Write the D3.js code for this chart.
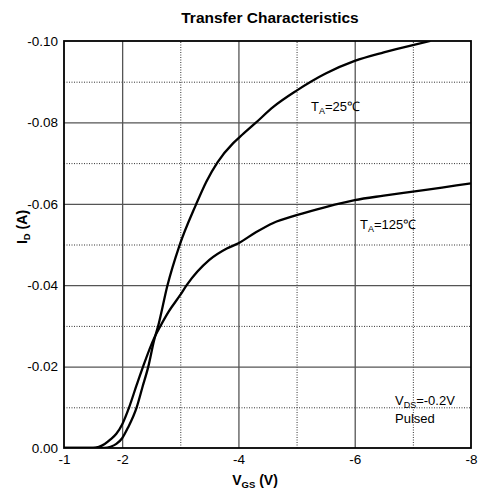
<!DOCTYPE html>
<html lang="en">
<head>
    <meta charset="utf-8">
    <script src="https://cdn.jsdelivr.net/npm/d3@7"></script>
    <style>
        body { margin: 0; background: #fff; }
        text { font-family: Arial, "Liberation Sans", sans-serif; fill: #000; }
        .grid line { stroke: #555; }
        .grid path { display: none; }
        .minor line { stroke: #333; stroke-dasharray: 1,1.5; }
        .curve { fill: none; stroke: #000; stroke-width: 2.3; }
    </style>
</head>
<body>
<script>
    // V_GS (V) and I_D (A)
    let vgs25 = [-1.0, -1.7, -1.8, -1.9, -2.0, -2.1, -2.25, -2.35, -2.45, -2.55, -2.62, -2.78, -2.98,
        -3.27, -3.45, -3.64, -3.91, -4.03, -4.29, -4.6, -5.0, -5.5, -6.0, -6.5, -7.0, -7.3];
    let id25 = [0, 0, -0.0003, -0.0010, -0.0024, -0.0050, -0.0100, -0.0150, -0.0200, -0.0265, -0.0300, -0.0400, -0.0495,
        -0.0598, -0.0655, -0.0702, -0.0749, -0.0765, -0.0798, -0.0838, -0.0878, -0.0920, -0.0951, -0.0972, -0.0990, -0.1000];

    let vgs125 = [-1.0, -1.5, -1.6, -1.7, -1.8, -1.9, -2.0, -2.12, -2.25, -2.36, -2.55, -2.66, -2.8, -3.0,
        -3.11, -3.5, -3.8, -4.0, -4.3, -4.6, -5.0, -5.5, -6.0, -6.5, -7.0, -7.5, -8.0];
    let id125 = [0, 0, -0.0003, -0.0010, -0.0021, -0.0035, -0.0058, -0.0100, -0.0155, -0.0200, -0.0270, -0.0300, -0.0335, -0.0376,
        -0.0400, -0.0462, -0.0490, -0.0503, -0.0530, -0.0553, -0.0572, -0.0592, -0.0609, -0.0620, -0.0630, -0.0640, -0.0650];

    let xLabelTicks = [-1, -2, -4, -6, -8];
    let xMajor = [-2, -4, -6];
    let xMinor = [-3, -5, -7];
    let yLabelTicks = [0, -0.02, -0.04, -0.06, -0.08, -0.10];
    let yMajor = [-0.02, -0.04, -0.06, -0.08];
    let yMinor = [-0.01, -0.03, -0.05, -0.07, -0.09];

    let W = 478, H = 494;
    let m = {top: 41, right: 7, bottom: 46, left: 64};
    let w = W - m.left - m.right, h = H - m.top - m.bottom;

    let svg = d3.select("body").append("svg")
        .attr("width", W).attr("height", H);
    let g = svg.append("g").attr("transform", "translate(" + m.left + "," + m.top + ")");

    let x = d3.scaleLinear().domain([-1, -8]).range([0, w]);
    let y = d3.scaleLinear().domain([0, -0.10]).range([h, 0]);

    let loc = d3.formatLocale({decimal: ".", thousands: ",", grouping: [3], currency: ["", ""], minus: "-"});
    let fy = loc.format(".2f");
    let fx = loc.format("d");

    // grid
    g.append("g").attr("class", "grid minor").attr("transform", "translate(0," + h + ")")
        .call(d3.axisBottom(x).tickValues(xMinor).tickSize(-h).tickFormat(""));
    g.append("g").attr("class", "grid minor")
        .call(d3.axisLeft(y).tickValues(yMinor).tickSize(-w).tickFormat(""));
    g.append("g").attr("class", "grid").attr("transform", "translate(0," + h + ")")
        .call(d3.axisBottom(x).tickValues(xMajor).tickSize(-h).tickFormat(""))
        .selectAll("line").attr("stroke-width", 1.3);
    g.append("g").attr("class", "grid")
        .call(d3.axisLeft(y).tickValues(yMajor).tickSize(-w).tickFormat(""))
        .selectAll("line").attr("stroke-width", 1.3);

    // curves
    g.append("clipPath").attr("id", "clip").append("rect").attr("width", w).attr("height", h);
    let line = d3.line()
        .x(function (d) { return x(d[0]); })
        .y(function (d) { return y(d[1]); })
        .curve(d3.curveMonotoneX);
    g.append("path").attr("class", "curve").attr("clip-path", "url(#clip)")
        .attr("d", line(d3.zip(vgs25, id25)));
    g.append("path").attr("class", "curve").attr("clip-path", "url(#clip)")
        .attr("d", line(d3.zip(vgs125, id125)));

    // frame
    g.append("rect").attr("width", w).attr("height", h)
        .attr("fill", "none").attr("stroke", "#000").attr("stroke-width", 1.8);

    // tick labels
    let xa = g.append("g").attr("transform", "translate(0," + h + ")")
        .call(d3.axisBottom(x).tickValues(xLabelTicks).tickSize(0).tickPadding(6).tickFormat(fx));
    xa.select(".domain").remove();
    xa.selectAll("text").attr("font-size", 13.5).attr("font-family", "Arial, 'Liberation Sans', sans-serif");
    let ya = g.append("g")
        .call(d3.axisLeft(y).tickValues(yLabelTicks).tickSize(0).tickPadding(6).tickFormat(fy));
    ya.select(".domain").remove();
    ya.selectAll("text").attr("font-size", 13.5).attr("font-family", "Arial, 'Liberation Sans', sans-serif");

    // title
    svg.append("text").attr("x", 270).attr("y", 23).attr("text-anchor", "middle")
        .attr("font-size", 15.5).attr("font-weight", "bold").text("Transfer Characteristics");

    // axis titles
    let xt = svg.append("text").attr("x", 255).attr("y", 485).attr("text-anchor", "middle")
        .attr("font-size", 14).attr("font-weight", "bold");
    xt.append("tspan").text("V");
    xt.append("tspan").attr("font-size", 9.5).attr("dy", 3).text("GS");
    xt.append("tspan").attr("dy", -3).text(" (V)");

    let yt = svg.append("text").attr("transform", "translate(27,227) rotate(-90)")
        .attr("text-anchor", "middle").attr("font-size", 14).attr("font-weight", "bold");
    yt.append("tspan").text("I");
    yt.append("tspan").attr("font-size", 9.5).attr("dy", 3).text("D");
    yt.append("tspan").attr("dy", -3).text(" (A)");

    // annotations
    function label(px, py, main, sub, rest) {
        let t = svg.append("text").attr("x", px).attr("y", py).attr("font-size", 13);
        t.append("tspan").text(main);
        t.append("tspan").attr("font-size", 9).attr("dy", 3).text(sub);
        t.append("tspan").attr("dy", -3).text(rest);
    }
    label(311, 111, "T", "A", "=25\u2103");
    label(360, 229, "T", "A", "=125\u2103");
    label(395, 405, "V", "DS", "=-0.2V");
    svg.append("text").attr("x", 395).attr("y", 423).attr("font-size", 13).text("Pulsed");
</script>
</body>
</html>
